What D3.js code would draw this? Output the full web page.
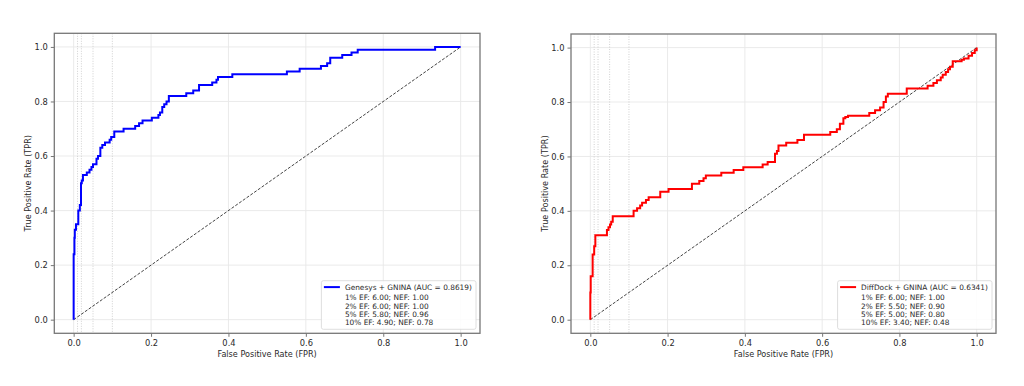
<!DOCTYPE html>
<html>
<head>
<meta charset="utf-8">
<script src="https://cdn.jsdelivr.net/npm/d3@7"></script>
<style>
  html, body { margin: 0; padding: 0; background: #fff; }
  svg { display: block; font-family: "DejaVu Sans", sans-serif; }
</style>
</head>
<body>
<svg id="chart" width="1024" height="386"></svg>
<script>
// ROC corner points: at fpr[i] the tpr jumps to tpr[i]
const genesysFpr = [0, 0, 0.002, 0.003, 0.006, 0.012, 0.016, 0.019, 0.021, 0.024, 0.034, 0.041, 0.046, 0.050,
    0.059, 0.063, 0.069, 0.074, 0.081, 0.093, 0.097, 0.105, 0.129, 0.159, 0.169, 0.178, 0.202, 0.219, 0.223,
    0.229, 0.234, 0.240, 0.246, 0.291, 0.309, 0.324, 0.358, 0.369, 0.373, 0.410, 0.551, 0.584, 0.639, 0.655,
    0.663, 0.694, 0.718, 0.734, 0.934, 1.0];
const genesysTpr = [0, 0.24, 0.30, 0.33, 0.35, 0.40, 0.42, 0.50, 0.51, 0.53, 0.54, 0.55, 0.56, 0.57,
    0.59, 0.60, 0.63, 0.64, 0.65, 0.66, 0.67, 0.69, 0.70, 0.71, 0.72, 0.73, 0.74, 0.75, 0.76,
    0.78, 0.79, 0.80, 0.82, 0.83, 0.84, 0.86, 0.87, 0.88, 0.89, 0.90, 0.91, 0.92, 0.93, 0.94,
    0.96, 0.97, 0.98, 0.99, 1.0, 1.0];

const diffdockFpr = [0, 0, 0.001, 0.006, 0.010, 0.013, 0.043, 0.047, 0.051, 0.054, 0.058, 0.112, 0.121,
    0.129, 0.134, 0.144, 0.151, 0.181, 0.2025, 0.263, 0.282, 0.293, 0.299, 0.339, 0.371, 0.396, 0.446,
    0.459, 0.478, 0.483, 0.487, 0.507, 0.536, 0.553, 0.621, 0.638, 0.646, 0.655, 0.660, 0.667, 0.722,
    0.737, 0.750, 0.759, 0.765, 0.770, 0.819, 0.873, 0.888, 0.897, 0.907, 0.912, 0.920, 0.926, 0.931,
    0.938, 0.961, 0.967, 0.979, 0.988, 0.995, 1.0];
const diffdockTpr = [0, 0.10, 0.16, 0.24, 0.27, 0.31, 0.33, 0.34, 0.35, 0.36, 0.38, 0.40, 0.41,
    0.42, 0.43, 0.44, 0.45, 0.47, 0.48, 0.50, 0.51, 0.52, 0.53, 0.54, 0.55, 0.56, 0.57,
    0.58, 0.61, 0.62, 0.64, 0.65, 0.66, 0.68, 0.69, 0.70, 0.72, 0.74, 0.745, 0.75, 0.76,
    0.77, 0.78, 0.80, 0.82, 0.83, 0.85, 0.86, 0.87, 0.88, 0.89, 0.90, 0.91, 0.92, 0.93,
    0.95, 0.955, 0.96, 0.97, 0.98, 0.99, 1.0];

const enrichmentCutoffs = [0.01, 0.02, 0.05, 0.10];
const tickValues = [0, 0.2, 0.4, 0.6, 0.8, 1.0];

const genesysLabel = "Genesys + GNINA (AUC = 0.8619)";
const genesysStats = ["1% EF: 6.00; NEF: 1.00", "2% EF: 6.00; NEF: 1.00", "5% EF: 5.80; NEF: 0.96", "10% EF: 4.90; NEF: 0.78"];
const diffdockLabel = "DiffDock + GNINA (AUC = 0.6341)";
const diffdockStats = ["1% EF: 6.00; NEF: 1.00", "2% EF: 5.50; NEF: 0.90", "5% EF: 5.00; NEF: 0.80", "10% EF: 3.40; NEF: 0.48"];

let svg = d3.select("#chart");

let rocPanel = function (options) {
    let self = {};
    for (let key in options) {
        self[key] = options[key];
    }

    let x = d3.scaleLinear().domain([-0.05, 1.05]).range([self.left, self.right]);
    let y = d3.scaleLinear().domain([-0.05, 1.05]).range([self.bottom, self.top]);
    let g = svg.append("g");

    // grid
    g.append("g").selectAll("line").data(tickValues).enter().append("line")
        .attr("x1", d => x(d)).attr("x2", d => x(d))
        .attr("y1", self.top).attr("y2", self.bottom)
        .style("stroke", "#e8e8e8").style("stroke-width", 0.9);
    g.append("g").selectAll("line").data(tickValues).enter().append("line")
        .attr("y1", d => y(d)).attr("y2", d => y(d))
        .attr("x1", self.left).attr("x2", self.right)
        .style("stroke", "#e8e8e8").style("stroke-width", 0.9);

    // enrichment cut-offs
    g.append("g").selectAll("line").data(enrichmentCutoffs).enter().append("line")
        .attr("x1", d => x(d)).attr("x2", d => x(d))
        .attr("y1", self.top).attr("y2", self.bottom)
        .style("stroke", "#c4c4c4").style("stroke-width", 0.8)
        .style("stroke-dasharray", "1,1.5");

    // random diagonal
    g.append("line")
        .attr("x1", x(0)).attr("y1", y(0)).attr("x2", x(1)).attr("y2", y(1))
        .style("stroke", "#444").style("stroke-width", 1)
        .style("stroke-dasharray", "3,1.6");

    let pts = self.fpr.map((f, i) => [f, self.tpr[i]]);
    let line = d3.line().x(d => x(d[0])).y(d => y(d[1])).curve(d3.curveStepAfter);
    g.append("path").datum(pts)
        .attr("d", line)
        .style("fill", "none")
        .style("stroke", self.color)
        .style("stroke-width", 2)
        .style("stroke-linejoin", "miter");

    // axes
    let xAxis = d3.axisBottom(x).tickValues(tickValues).tickFormat(d3.format(".1f")).tickSize(3.5).tickPadding(3);
    let yAxis = d3.axisLeft(y).tickValues(tickValues).tickFormat(d3.format(".1f")).tickSize(3.5).tickPadding(3);
    let ax = g.append("g").attr("transform", "translate(0," + self.bottom + ")").call(xAxis);
    let ay = g.append("g").attr("transform", "translate(" + self.left + ",0)").call(yAxis);
    [ax, ay].forEach(a => {
        a.select(".domain").remove();
        a.selectAll(".tick line").style("stroke", "#666").style("stroke-width", 0.9);
        a.selectAll(".tick text").style("fill", "#2a2a2a").style("font-size", "8.3px")
            .style("font-family", "DejaVu Sans");
    });

    g.append("rect")
        .attr("x", self.left).attr("y", self.top)
        .attr("width", self.right - self.left).attr("height", self.bottom - self.top)
        .style("fill", "none").style("stroke", "#777").style("stroke-width", 1.3);

    g.append("text")
        .attr("x", (self.left + self.right) / 2).attr("y", self.bottom + 24)
        .attr("text-anchor", "middle")
        .style("font-size", "8.1px").style("fill", "#2a2a2a")
        .text("False Positive Rate (FPR)");
    g.append("text")
        .attr("transform", "translate(" + (self.left - 23.5) + "," + ((self.top + self.bottom) / 2) + ") rotate(-90)")
        .attr("text-anchor", "middle")
        .style("font-size", "8.1px").style("fill", "#2a2a2a")
        .text("True Positive Rate (TPR)");

    // legend
    let lg = g.append("g");
    let box = lg.append("rect");
    let tx = lg.append("g");
    tx.append("text").attr("x", 0).attr("y", 0)
        .style("font-size", "7.4px").style("fill", "#2a2a2a")
        .text(self.label);
    tx.selectAll(".stat").data(self.stats).enter().append("text")
        .attr("class", "stat")
        .attr("x", 0).attr("y", (d, i) => 10.7 + i * 8.2)
        .style("font-size", "7.4px").style("fill", "#2a2a2a")
        .text(d => d);
    let tb = tx.node().getBBox();
    let boxW = 23.5 + tb.width + 4;
    let boxH = 48.6;
    let bx = self.right - 4 - boxW;
    let by = self.bottom - 4 - boxH;
    box.attr("x", bx).attr("y", by).attr("width", boxW).attr("height", boxH)
        .attr("rx", 2)
        .style("fill", "#fff").style("fill-opacity", 0.85)
        .style("stroke", "#d6d6d6").style("stroke-width", 0.8);
    tx.attr("transform", "translate(" + (bx + 23.5) + "," + (by + 9.1) + ")");
    lg.append("line")
        .attr("x1", bx + 2.5).attr("x2", bx + 18.5)
        .attr("y1", by + 6.4).attr("y2", by + 6.4)
        .style("stroke", self.color).style("stroke-width", 2);

    return self;
};

rocPanel({left: 54.3, right: 480, top: 33.3, bottom: 333.3, fpr: genesysFpr, tpr: genesysTpr,
    color: "#0000ff", label: genesysLabel, stats: genesysStats});
rocPanel({left: 571, right: 996, top: 34, bottom: 333.3, fpr: diffdockFpr, tpr: diffdockTpr,
    color: "#ff0000", label: diffdockLabel, stats: diffdockStats});
</script>
</body>
</html>
